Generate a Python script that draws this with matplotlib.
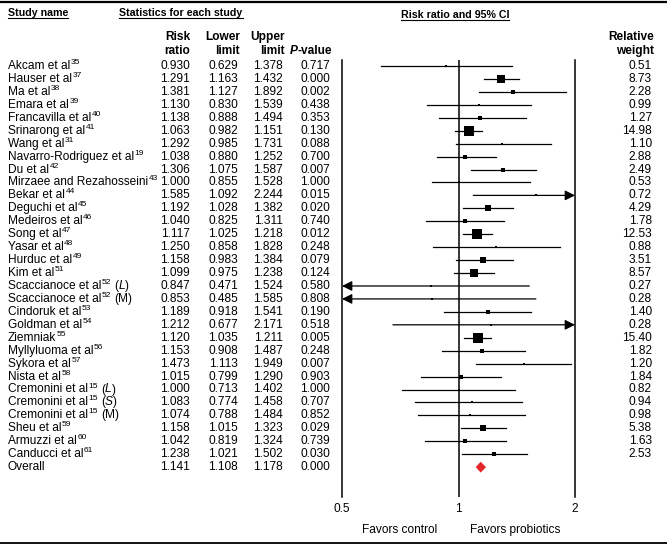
import matplotlib
matplotlib.use('Agg')
import matplotlib.pyplot as plt
from matplotlib.lines import Line2D
from matplotlib.transforms import blended_transform_factory
from matplotlib import font_manager
import numpy as np

plt.rcParams['font.family'] = ['Liberation Sans', 'DejaVu Sans']

# ---------------- data ----------------
names = ["Akcam et al", "Hauser et al", "Ma et al", "Emara et al", "Francavilla et al",
         "Srinarong et al", "Wang et al", "Navarro-Rodriguez et al", "Du et al",
         "Mirzaee and Rezahosseini", "Bekar et al", "Deguchi et al", "Medeiros et al",
         "Song et al", "Yasar et al", "Hurduc et al", "Kim et al", "Scaccianoce et al",
         "Scaccianoce et al", "Cindoruk et al", "Goldman et al", "Ziemniak",
         "Myllyluoma et al", "Sykora et al", "Nista et al", "Cremonini et al",
         "Cremonini et al", "Cremonini et al", "Sheu et al", "Armuzzi et al", "Canducci et al"]
refs = ["35", "37", "38", "39", "40", "41", "31", "19", "42", "43", "44", "45", "46", "47",
        "48", "49", "51", "52", "52", "53", "54", "55", "56", "57", "58", "15", "15", "15",
        "59", "60", "61"]
# (text, italic) suffix after the reference number
suffixes = [None] * 17 + [("L", True), ("M", False)] + [None] * 6 + \
           [("L", True), ("S", True), ("M", False)] + [None] * 3
risk_ratio = [0.930, 1.291, 1.381, 1.130, 1.138, 1.063, 1.292, 1.038, 1.306, 1.000, 1.585,
              1.192, 1.040, 1.117, 1.250, 1.158, 1.099, 0.847, 0.853, 1.189, 1.212, 1.120,
              1.153, 1.473, 1.015, 1.000, 1.083, 1.074, 1.158, 1.042, 1.238]
lower_limit = [0.629, 1.163, 1.127, 0.830, 0.888, 0.982, 0.985, 0.880, 1.075, 0.855, 1.092,
               1.028, 0.825, 1.025, 0.858, 0.983, 0.975, 0.471, 0.485, 0.918, 0.677, 1.035,
               0.908, 1.113, 0.799, 0.713, 0.774, 0.788, 1.015, 0.819, 1.021]
upper_limit = [1.378, 1.432, 1.892, 1.539, 1.494, 1.151, 1.731, 1.252, 1.587, 1.528, 2.244,
               1.382, 1.311, 1.218, 1.828, 1.384, 1.238, 1.524, 1.585, 1.541, 2.171, 1.211,
               1.487, 1.949, 1.290, 1.402, 1.458, 1.484, 1.323, 1.324, 1.502]
p_value = [0.717, 0.000, 0.002, 0.438, 0.353, 0.130, 0.088, 0.700, 0.007, 1.000, 0.015,
           0.020, 0.740, 0.012, 0.248, 0.079, 0.124, 0.580, 0.808, 0.190, 0.518, 0.005,
           0.248, 0.007, 0.903, 1.000, 0.707, 0.852, 0.029, 0.739, 0.030]
rel_weight = [0.51, 8.73, 2.28, 0.99, 1.27, 14.98, 1.10, 2.88, 2.49, 0.53, 0.72, 4.29, 1.78,
              12.53, 0.88, 3.51, 8.57, 0.27, 0.28, 1.40, 0.28, 15.40, 1.82, 1.20, 1.84, 0.82,
              0.94, 0.98, 5.38, 1.63, 2.53]
overall_label = "Overall"
overall_rr, overall_lo, overall_hi, overall_p = 1.141, 1.108, 1.178, 0.000
x_ticks = [0.5, 1, 2]
x_ticklabels = ["0.5", "1", "2"]

# ---------------- layout ----------------
W, H = 667, 544
fig = plt.figure(figsize=(W / 100, H / 100), dpi=100)
FS = 8.6
row0, rowstep = 66.0, 12.94
ax_top_px, ax_bot_px = 60, 497
ax_l_px, ax_r_px = 342, 575
ax = fig.add_axes([ax_l_px / W, 1 - ax_bot_px / H, (ax_r_px - ax_l_px) / W,
                   (ax_bot_px - ax_top_px) / H])
ax.set_xscale('log')
ax.set_xlim(0.5, 2)
ax.set_ylim((ax_bot_px - row0) / rowstep, (ax_top_px - row0) / rowstep)
for s in ['top', 'bottom']:
    ax.spines[s].set_visible(False)
for s in ['left', 'right']:
    ax.spines[s].set_linewidth(1.1)
ax.set_xticks(x_ticks)
ax.set_xticklabels(x_ticklabels, fontsize=FS)
ax.xaxis.set_minor_locator(matplotlib.ticker.NullLocator())
ax.tick_params(axis='x', length=0, pad=4)
ax.set_yticks([])
ax.patch.set_alpha(0)
ax.axvline(1, color='k', lw=1.1, zorder=1)

n = len(names)
for i in range(n):
    lo, hi, rr, w = lower_limit[i], upper_limit[i], risk_ratio[i], rel_weight[i]
    if hi > 2:
        ax.annotate('', xy=(2, i), xytext=(max(lo, 0.5), i),
                    arrowprops=dict(arrowstyle='-|>,head_length=0.6,head_width=0.3',
                                    color='k', lw=0.9, shrinkA=0, shrinkB=0))
    elif lo < 0.5:
        ax.annotate('', xy=(0.5, i), xytext=(hi, i),
                    arrowprops=dict(arrowstyle='-|>,head_length=0.6,head_width=0.3',
                                    color='k', lw=0.9, shrinkA=0, shrinkB=0))
    else:
        ax.plot([lo, hi], [i, i], color='k', lw=0.9, zorder=2)
    side_px = 2.7 * np.sqrt(w)
    ax.scatter([rr], [i], marker='s', s=(side_px / 1.389) ** 2, color='k',
               linewidths=0, zorder=3)

# overall diamond
yo = n
ax.fill([overall_lo, overall_rr, overall_hi, overall_rr], [yo, yo - 0.42, yo, yo + 0.42],
        color='#e3262b', lw=0, zorder=3)

# ---------------- text columns ----------------
tr = blended_transform_factory(fig.transFigure, ax.transData)
col_x = {'name': 8, 'rr': 190, 'lo': 238, 'hi': 283, 'p': 330, 'w': 652}


def rowtext(px, y, s, **kw):
    kw.setdefault('fontsize', FS)
    kw.setdefault('va', 'center')
    return ax.text(px / W, y, s, transform=tr, **kw)


name_objs = []
for i in range(n):
    name_objs.append(rowtext(col_x['name'], i, names[i], ha='left'))
    rowtext(col_x['rr'], i, f"{risk_ratio[i]:.3f}", ha='right')
    rowtext(col_x['lo'], i, f"{lower_limit[i]:.3f}", ha='right')
    rowtext(col_x['hi'], i, f"{upper_limit[i]:.3f}", ha='right')
    rowtext(col_x['p'], i, f"{p_value[i]:.3f}", ha='right')
    rowtext(col_x['w'], i, f"{rel_weight[i]:.2f}", ha='right')

rowtext(col_x['name'], yo, overall_label, ha='left')
rowtext(col_x['rr'], yo, f"{overall_rr:.3f}", ha='right')
rowtext(col_x['lo'], yo, f"{overall_lo:.3f}", ha='right')
rowtext(col_x['hi'], yo, f"{overall_hi:.3f}", ha='right')
rowtext(col_x['p'], yo, f"{overall_p:.3f}", ha='right')


def ftext(px, py, s, **kw):
    kw.setdefault('fontsize', FS)
    return fig.text(px / W, 1 - py / H, s, va='center', **kw)


head_fs = 7.7

# headers
h1 = ftext(8, 13, "Study name", ha='left', fontweight='bold', fontsize=head_fs)
h2 = ftext(181, 13, "Statistics for each study", ha='center', fontweight='bold',
           fontsize=head_fs)
h3 = ftext(455, 15, "Risk ratio and 95% CI", ha='center', fontweight='bold',
           fontsize=head_fs)
ftext(190, 37, "Risk", ha='right', fontweight='bold')
ftext(190, 51, "ratio", ha='right', fontweight='bold')
ftext(240, 37, "Lower", ha='right', fontweight='bold')
ftext(240, 51, "limit", ha='right', fontweight='bold')
ftext(285, 37, "Upper", ha='right', fontweight='bold')
ftext(285, 51, "limit", ha='right', fontweight='bold')
pv = ftext(332, 51, "-value", ha='right', fontweight='bold')
ftext(654, 37, "Relative", ha='right', fontweight='bold')
ftext(654, 51, "weight", ha='right', fontweight='bold')

ftext(400, 530, "Favors control", ha='center')
ftext(515, 530, "Favors probiotics", ha='center')

# superscripts / suffixes / underlines after measuring
fig.canvas.draw()
r = fig.canvas.get_renderer()

bbp = pv.get_window_extent(r)
fig.text(bbp.x0 / W, 1 - 51 / H, "P", ha='right', va='center', fontsize=FS,
         fontweight='bold', fontstyle='italic')

SUP_FS = 6.0
for i in range(n):
    bb = name_objs[i].get_window_extent(r)
    xs = bb.x1 + 0.5
    yc = ax.transData.transform((1, i))[1]
    sup = fig.text(xs / W, (yc + 3.5) / H, refs[i], ha='left', va='center', fontsize=SUP_FS)
    if suffixes[i] is not None:
        sbb = sup.get_window_extent(r)
        txt, ital = suffixes[i]
        t1 = fig.text((sbb.x1 + 3) / W, yc / H, "(", ha='left', va='center', fontsize=FS)
        b1 = t1.get_window_extent(r)
        t2 = fig.text(b1.x1 / W, yc / H, txt, ha='left', va='center', fontsize=FS,
                      fontstyle='italic' if ital else 'normal')
        b2 = t2.get_window_extent(r)
        fig.text((b2.x1 + (0.5 if ital else 0)) / W, yc / H, ")", ha='left', va='center',
                 fontsize=FS)

for t in (h1, h2, h3):
    bb = t.get_window_extent(r)
    yline = bb.y0 + 0.5
    fig.add_artist(Line2D([bb.x0 / W, bb.x1 / W], [yline / H, yline / H], color='k', lw=0.8))

# frame lines
fig.add_artist(Line2D([0, 1], [1 - 2 / H, 1 - 2 / H], color='k', lw=1.6))
fig.add_artist(Line2D([0, 1], [1 - 542.5 / H, 1 - 542.5 / H], color='k', lw=1.3))

fig.savefig('out.png', dpi=100)
